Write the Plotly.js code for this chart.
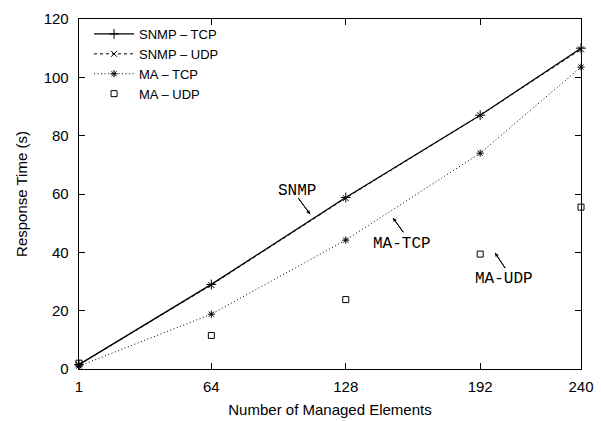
<!DOCTYPE html>
<html>
<head>
<meta charset="utf-8">
<script src="https://cdn.plot.ly/plotly-3.0.1.min.js"></script>
<style>html,body{margin:0;padding:0;background:#fff;}#chart{width:601px;height:421px;}</style>
</head>
<body>
<div id="chart"></div>
<script>
const elements = [1, 64, 128, 192, 240];
const snmpTcp = [1.5, 29, 58.8, 87, 110];
const snmpUdp = [1.5, 28.8, 58.6, 87, 109.6];
const maTcp = [1, 18.8, 44.2, 74, 103.5];
const maUdp = [2, 11.5, 23.8, 39.4, 55.5];
const xTicks = [1, 64, 128, 192, 240];
const yTicks = [0, 20, 40, 60, 80, 100, 120];

const traces = [
  {x: elements, y: snmpTcp, name: 'SNMP – TCP', mode: 'lines+markers',
   line: {color: '#000', width: 1.3},
   marker: {symbol: 'cross-thin', size: 7, color: '#000', line: {color: '#000', width: 1}}},
  {x: elements, y: snmpUdp, name: 'SNMP – UDP', mode: 'lines+markers',
   line: {color: '#000', width: 1, dash: '3px,3px'},
   marker: {symbol: 'x-thin', size: 6, color: '#000', line: {color: '#000', width: 1}}},
  {x: elements, y: maTcp, name: 'MA – TCP', mode: 'lines+markers',
   line: {color: '#000', width: 1, dash: '1px,2.5px'},
   marker: {symbol: 'asterisk-open', size: 6, color: '#000', line: {color: '#000', width: 1}}},
  {x: elements, y: maUdp, name: 'MA – UDP', mode: 'markers',
   marker: {symbol: 'square-open', size: 6, color: '#000', line: {color: '#000', width: 1}}}
];

const annFont = {family: 'Liberation Mono, Courier New, monospace', size: 16, color: '#000'};
function label(x, y, text) {
  return {x: x, y: y, xref: 'x', yref: 'y', text: text, showarrow: false, font: annFont};
}
function arrow(x, y, ax, ay) {
  return {x: x, y: y, ax: ax, ay: ay, xref: 'x', yref: 'y', axref: 'x', ayref: 'y',
          text: '', font: {size: 1}, borderpad: 0, borderwidth: 0,
          showarrow: true, arrowhead: 2, arrowsize: 0.75, arrowwidth: 1,
          arrowcolor: '#000', standoff: 0, startstandoff: 0};
}
function shaft(x, y, ax, ay) {
  return {type: 'line', xref: 'x', yref: 'y', x0: ax, y0: ay, x1: x, y1: y,
          line: {color: '#000', width: 1}};
}
const arrows = [
  [111.0, 53.1, 105.4, 58.6],
  [150.5, 51.8, 155.4, 46.9],
  [199.1, 39.8, 203.9, 34.6]
];
const layout = {
  width: 601, height: 421,
  margin: {l: 79, r: 20, t: 19, b: 52, pad: 0},
  paper_bgcolor: '#fff', plot_bgcolor: '#fff',
  font: {family: 'Liberation Sans, Arial, Helvetica, sans-serif', size: 15, color: '#000'},
  showlegend: true,
  legend: {x: 0.02, y: 1.0, xanchor: 'left', yanchor: 'top', bgcolor: 'rgba(0,0,0,0)',
           font: {size: 13}, tracegroupgap: 0, itemwidth: 40, borderwidth: 0},
  xaxis: {
    range: [1, 240], tickmode: 'array', tickvals: xTicks, ticktext: xTicks.map(String),
    ticks: 'inside', ticklen: 6, tickcolor: '#000', mirror: 'allticks',
    showline: true, linecolor: '#000', linewidth: 1.3, showgrid: false, zeroline: false,
    tickfont: {size: 15}, ticklabelstandoff: 4,
    title: {text: 'Number of Managed Elements', font: {size: 15}, standoff: 10}
  },
  yaxis: {
    range: [0, 120], tickmode: 'array', tickvals: yTicks,
    ticks: 'inside', ticklen: 6, tickcolor: '#000', mirror: 'allticks',
    showline: true, linecolor: '#000', linewidth: 1.3, showgrid: false, zeroline: false,
    tickfont: {size: 15}, ticklabelstandoff: 6,
    title: {text: 'Response Time (s)', font: {size: 15}, standoff: 12}
  },
  shapes: arrows.map(a => shaft(a[0], a[1], a[2], a[3])),
  annotations: [
    label(104.8, 61.0, 'SNMP'),
    label(154.8, 42.9, 'MA-TCP'),
    label(203.3, 30.9, 'MA-UDP')
  ].concat(arrows.map(a => arrow(a[0], a[1], a[2], a[3])))
};

traces.forEach(t => t.cliponaxis = false);
Plotly.newPlot('chart', traces, layout, {displayModeBar: false, staticPlot: true});
</script>
</body>
</html>
